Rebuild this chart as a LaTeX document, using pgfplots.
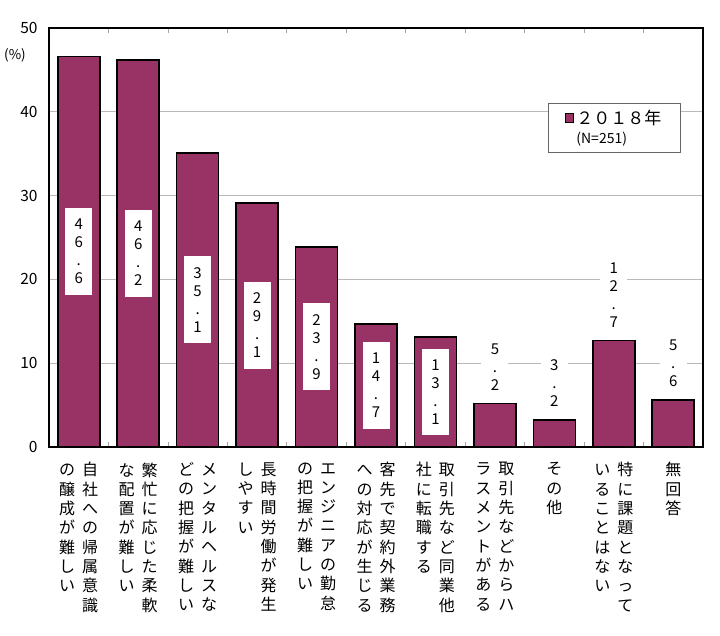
\documentclass[border=0pt]{standalone}
\usepackage{pgfplots}
\pgfplotsset{compat=1.18}
\usepackage{pgfplotstable}
\usepackage{fontspec}
\setmainfont{Noto Sans CJK JP}
\definecolor{barcol}{RGB}{153,51,102}
\makeatletter
\newcommand\vcolbs[2]{\vtop{\baselineskip=#1\lineskiplimit=-20bp\lineskip=0bp\@tfor\@ch:=#2\do{\hbox to 1em{\hss\@ch\hss}}}}
\makeatother
\newcommand\vcol[1]{\vcolbs{19.3bp}{#1}}
\newcommand\vnum[1]{\vcolbs{18bp}{#1}}
\newcommand\lbl[2]{\hbox{\vcol{#2}\hskip 7bp\vcol{#1}}}
\newcommand\numlab{\edef\tmpm{\pgfplotspointmeta}\expandafter\vnum\expandafter{\tmpm}}

\pgfplotstableread{
x v
0 46.6
1 46.2
2 35.1
3 29.1
4 23.9
5 14.7
6 13.1
7 5.2
8 3.2
9 12.7
10 5.6
}\bars
\pgfplotstableread{
x v
0 46.6
1 46.2
2 35.1
3 29.1
4 23.9
5 14.7
6 13.1
}\inlab
\pgfplotstableread{
x v
7 5.2
8 3.2
9 12.7
10 5.6
}\uplab

\begin{document}
\begin{tikzpicture}
\begin{axis}[
  width=654bp, height=419bp, scale only axis,
  xmin=-0.5, xmax=10.5, ymin=0, ymax=50,
  ytick={0,10,...,50},
  xtick={0,...,10},
  minor xtick={0.5,1.5,...,9.5},
  major tick length=0pt, minor tick length=5bp,
  tick align=inside,
  minor tick style={gray!70, line width=0.8bp},
  ymajorgrids, grid style={gray!55, line width=0.9bp},
  axis line style={black, line width=1.2bp},
  /pgf/number format/assume math mode=true,
  yticklabel style={font=\fontsize{15.5bp}{17bp}\selectfont, xshift=-8bp},
  xticklabel style={font=\fontsize{16bp}{19bp}\selectfont, anchor=north, yshift=-12bp},
  xticklabels={
    {\lbl{自社への帰属意識}{の醸成が難しい}},
    {\lbl{繁忙に応じた柔軟}{な配置が難しい}},
    {\lbl{メンタルヘルスな}{どの把握が難しい}},
    {\lbl{長時間労働が発生}{しやすい}},
    {\lbl{エンジニアの勤怠}{の把握が難しい}},
    {\lbl{客先で契約外業務}{への対応が生じる}},
    {\lbl{取引先など同業他}{社に転職する}},
    {\lbl{取引先などからハ}{ラスメントがある}},
    {\vcol{その他}},
    {\lbl{特に課題となって}{いることはない}},
    {\vcol{無回答}}
  },
  legend style={at={(0.966,0.821)}, anchor=north east, draw=gray!80!black, line width=0.8bp,
    inner xsep=17bp, inner ysep=5bp, row sep=2bp,
    font=\fontsize{17bp}{19bp}\selectfont},
  legend cell align=left,
  legend image code/.code={\draw[fill=barcol, draw=black, line width=0.9bp] (0bp,-4bp) rectangle (8.5bp,4.5bp);},
  clip=false,
]
\addplot[ybar, bar width=42bp, fill=barcol, draw=black, line width=1.6bp] table[x=x,y=v]{\bars};
\addlegendentry{２０１８年}
\addplot[forget plot, only marks, mark=o, mark size=0pt, mark options={draw=none},
  point meta=explicit symbolic, nodes near coords={\numlab},
  every node near coord/.style={anchor=center, fill=white, inner xsep=6bp, inner ysep=11bp,
    font=\fontsize{15bp}{18bp}\selectfont}]
  table[x=x, y expr=\thisrow{v}/2, meta=v]{\inlab};
\addplot[forget plot, only marks, mark=o, mark size=0pt, mark options={draw=none},
  point meta=explicit symbolic, nodes near coords={\numlab},
  every node near coord/.style={anchor=south, fill=white, inner xsep=6bp, inner ysep=3bp, yshift=10bp,
    font=\fontsize{15bp}{18bp}\selectfont}]
  table[x=x, y=v, meta=v]{\uplab};
\addlegendimage{empty legend}
\addlegendentry{\fontsize{14bp}{16bp}\selectfont(N=251)}
\node[font=\fontsize{13.5bp}{15bp}\selectfont] at (axis description cs:-0.052,0.935) {(\%)};
\coordinate (O) at (rel axis cs:0,0);
\end{axis}
\path (O) ++(-49bp,-189bp) rectangle ++(720bp,636bp);
\end{tikzpicture}
\end{document}
